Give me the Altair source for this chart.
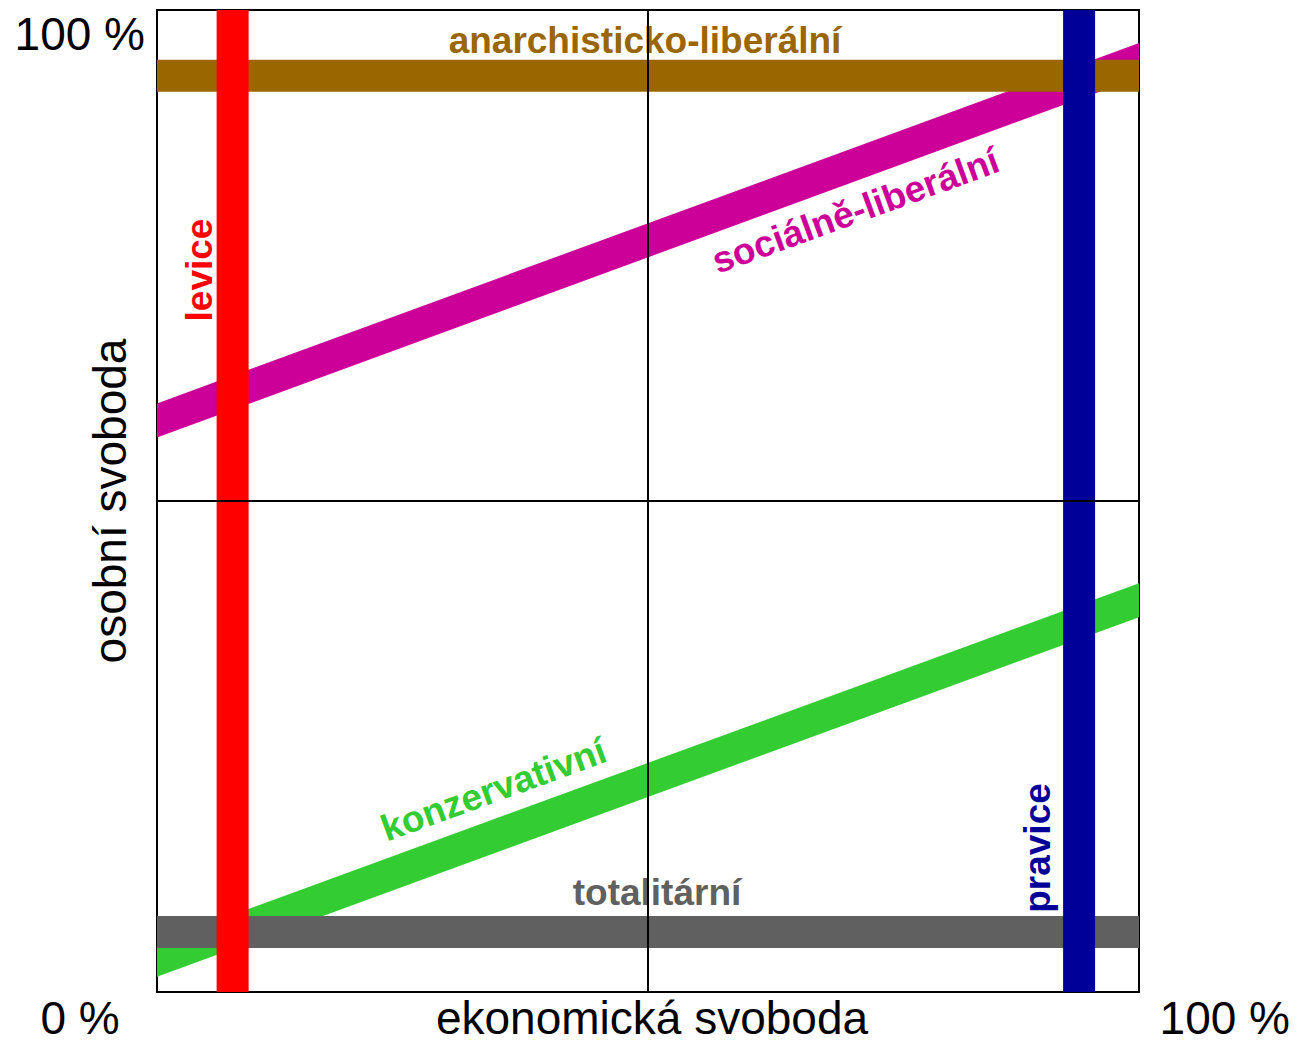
import altair as alt
import pandas as pd

# ---- data (percent scales, 0-100) ----
series = ["sociálně-liberální", "konzervativní", "anarchisticko-liberální",
          "totalitární", "levice", "pravice"]
x_start = [0, 0, 0, 0, 7.7, 93.9]
x_end = [100, 100, 100, 100, 7.7, 93.9]
y_start = [58.2, 3.3, 93.3, 6.1, 0, 0]
y_end = [94.9, 39.9, 93.3, 6.1, 100, 100]
colors = ["#CC0099", "#33CC33", "#996600", "#606060", "#FF0000", "#000099"]

center_x = [50]
center_y = [50]

rows = []
for s, x0, x1, y0, y1 in zip(series, x_start, x_end, y_start, y_end):
    rows.append({"series": s, "x": x0, "y": y0, "o": 0})
    rows.append({"series": s, "x": x1, "y": y1, "o": 1})
df = pd.DataFrame(rows)

W, H = 982, 982
xs = alt.Scale(domain=[0, 100], nice=False, zero=False)
ys = alt.Scale(domain=[0, 100], nice=False, zero=False)
FONT = "Liberation Sans"

layers = []
for s, c in zip(series, colors):
    layers.append(
        alt.Chart(df).transform_filter(alt.datum.series == s)
        .mark_line(strokeWidth=32, strokeCap="square", clip=True, color=c)
        .encode(x=alt.X("x:Q", scale=xs, axis=None),
                y=alt.Y("y:Q", scale=ys, axis=None),
                order="o:Q")
    )

# series labels (bold, coloured)
lab = [
    ("anarchisticko-liberální", "#996600", 488, 43, 0, "alphabetic"),
    ("totalitární", "#606060", 500, 895, 0, "alphabetic"),
    ("sociálně-liberální", "#CC0099", 699, 202, 340, "middle"),
    ("konzervativní", "#33CC33", 337, 781, 340, "middle"),
    ("levice", "#FF0000", 44, 260, 270, "middle"),
    ("pravice", "#000099", 882, 838, 270, "middle"),
]
for t, c, px, py, ang, bl in lab:
    layers.append(
        alt.Chart(pd.DataFrame({"t": [t]}))
        .mark_text(font=FONT, fontSize=37, fontWeight="bold", color=c,
                   angle=ang, align="center", baseline=bl)
        .encode(x=alt.value(px), y=alt.value(py), text="t:N")
    )

# quadrant lines
layers.append(
    alt.Chart(pd.DataFrame({"v": center_x}))
    .mark_rule(color="black", strokeWidth=2)
    .encode(x=alt.X("v:Q", scale=xs, axis=None))
)
layers.append(
    alt.Chart(pd.DataFrame({"v": center_y}))
    .mark_rule(color="black", strokeWidth=2)
    .encode(y=alt.Y("v:Q", scale=ys, axis=None))
)

# axis annotations
ann = [
    ("100 %", -12, 40, 0, "right", "alphabetic"),
    ("0 %", -77, 1034, 0, "center", "bottom"),
    ("100 %", 1133, 1034, 0, "right", "bottom"),
    ("ekonomická svoboda", 495, 1034, 0, "center", "bottom"),
    ("osobní svoboda", -31, 491, 270, "center", "alphabetic"),
]
for t, px, py, ang, al, bl in ann:
    layers.append(
        alt.Chart(pd.DataFrame({"t": [t]}))
        .mark_text(font=FONT, fontSize=46, color="black", angle=ang,
                   align=al, baseline=bl)
        .encode(x=alt.value(px), y=alt.value(py), text="t:N")
    )

chart = alt.layer(*layers).properties(
    width=W, height=H,
    autosize=alt.AutoSizeParams(type="none"),
    padding={"left": 149, "top": 2, "right": 153, "bottom": 53},
).configure_view(stroke="black", strokeWidth=2)

chart.save("out.html", embed_options={"renderer": "svg", "actions": False})
